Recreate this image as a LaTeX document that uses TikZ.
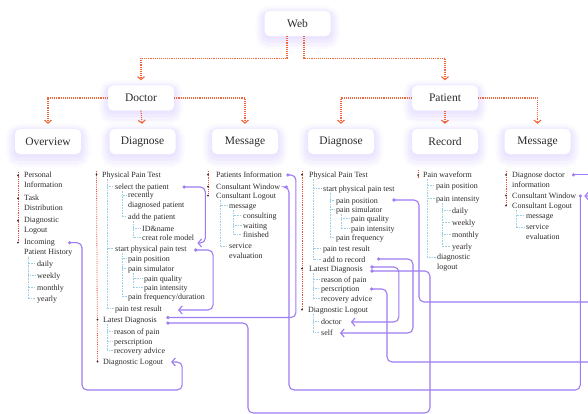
\documentclass[tikz,border=0pt]{standalone}
\usepackage{fontspec}
\setmainfont{Liberation Serif}
\usepackage{tikz}
\usetikzlibrary{arrows.meta}
\definecolor{ink}{HTML}{2B2B2B}
\definecolor{flow}{HTML}{F2643A}
\definecolor{spinec}{HTML}{E5533D}
\definecolor{branch}{HTML}{9FCFE6}
\definecolor{link}{HTML}{9E7CF2}
\definecolor{glow}{HTML}{B9A3FF}
\tikzset{
  box/.style={rounded corners=5pt, fill=white, minimum width=66pt, minimum height=25pt,
    font=\fontsize{11.5}{13}\selectfont, text=ink,
    preaction={draw=glow, line width=18pt, draw opacity=0.05, transform canvas={yshift=-4pt}},
    preaction={draw=glow, line width=13pt, draw opacity=0.07, transform canvas={yshift=-4pt}},
    preaction={draw=glow, line width=8pt, draw opacity=0.09, transform canvas={yshift=-3pt}},
    preaction={draw=glow, line width=3pt, draw opacity=0.08, transform canvas={yshift=-2pt}}},
  flowline/.style={draw=flow, line width=1.1pt, densely dotted, shorten >=5pt,
    -{Straight Barb[length=3pt,width=7pt]}},
  spine/.style={draw=spinec, line width=0.8pt, densely dotted},
  branchline/.style={draw=branch, line width=0.6pt, densely dotted},
  linkline/.style={draw=link, line width=1.1pt, rounded corners=5pt},
  linkarrow/.style={linkline, -{Straight Barb[length=3.5pt,width=8pt]}},
  item/.style={anchor=west, inner sep=0pt, font=\fontsize{8}{10}\selectfont, text=ink,
    text height=5.6pt, text depth=1.6pt},
  item2/.style={anchor=west, inner sep=0pt, font=\fontsize{8}{10}\selectfont, text=ink, align=left},
}

\begin{document}
\begin{tikzpicture}[x=1pt,y=-1pt]
\useasboundingbox (0,0) rectangle (588,414);
\fill[white] (0,0) rectangle (588,414);
\clip (0,0) rectangle (588,414);

% menu boxes
\node[box] (web) at (297.5,23.5) {Web};
\node[box] (doctor) at (141,98) {Doctor};
\node[box] (patient) at (445,98) {Patient};
\node[box] (overview) at (48,141.5) {Overview};
\node[box] (ddiag) at (142.5,141.5) {Diagnose};
\node[box] (dmsg) at (245,141.5) {Message};
\node[box] (pdiag) at (341,141.5) {Diagnose};
\node[box] (record) at (445,141.5) {Record};
\node[box] (pmsg) at (537.5,141.5) {Message};

\draw[flowline] ([xshift=-10.5pt]web.south) -- ++(0,22) -| (doctor.north);
\draw[flowline] ([xshift=6.5pt]web.south) -- ++(0,22) -| (patient.north);
\draw[flowline] (doctor.west) -| (overview.north);
\draw[flowline] (doctor.south) -- (ddiag.north);
\draw[flowline] (doctor.east) -| (dmsg.north);
\draw[flowline] (patient.west) -| (pdiag.north);
\draw[flowline] (patient.south) -- (record.north);
\draw[flowline] (patient.east) -| (pmsg.north);

% overview
\node[item2] (oPers) at (24,180) {Personal\\Information};
\node[item2] (oTask) at (24,203) {Task\\Distribution};
\node[item2] (oLog) at (24,226) {Diagnostic\\Logout};
\node[item2] (oInc) at (24,248) {Incoming\\Patient History};
\node[item] (oDay) at (37,264) {daily};
\node[item] (oWeek) at (37,276) {weekly};
\node[item] (oMon) at (37,288) {monthly};
\node[item] (oYear) at (37,299) {yearly};

% doctor diagnose
\node[item] (dPhys) at (102,175) {Physical Pain Test};
\node[item] (dSel) at (115,187) {select the patient};
\node[item2] (dRecent) at (128,200.5) {recently\\diagnosed patient};
\node[item] (dAdd) at (128,217) {add the patient};
\node[item] (dId) at (142,229) {ID\&name};
\node[item] (dRole) at (142,238) {creat role model};
\node[item] (dStart) at (115,249) {start physical pain test};
\node[item] (dPos) at (128,259) {pain position};
\node[item] (dSim) at (128,269) {pain simulator};
\node[item] (dQual) at (144,279) {pain quality};
\node[item] (dInt) at (144,288) {pain intensity};
\node[item] (dFreq) at (128,297) {pain frequency/duration};
\node[item] (dRes) at (115,309) {pain test result};
\node[item] (dLat) at (103,320) {Latest Diagnosis};
\node[item] (dReas) at (114,332) {reason of pain};
\node[item] (dPres) at (114,342) {perscription};
\node[item] (dRecov) at (114,351) {recovery advice};
\node[item] (dLog) at (103,362) {Diagnostic Logout};

% doctor message
\node[item] (mPat) at (216,175) {Patients Information};
\node[item] (mWin) at (216,187) {Consultant Window};
\node[item] (mLog) at (216,196) {Consultant Logout};
\node[item] (mMsg) at (229,206) {message};
\node[item] (mCons) at (243,216) {consulting};
\node[item] (mWait) at (243,226) {waiting};
\node[item] (mFin) at (243,235) {finished};
\node[item2] (mServ) at (229,251) {service\\evaluation};

% patient diagnose
\node[item] (pPhys) at (309,175) {Physical Pain Test};
\node[item] (pStart) at (323,189) {start physical pain test};
\node[item] (pPos) at (336,201) {pain position};
\node[item] (pSim) at (336,210) {pain simulator};
\node[item] (pQual) at (351,219) {pain quality};
\node[item] (pInt) at (351,229) {pain intensity};
\node[item] (pFreq) at (336,238) {pain frequency};
\node[item] (pRes) at (323,249) {pain test result};
\node[item] (pAdd) at (323,260) {add to record};
\node[item] (pLat) at (309,269) {Latest Diagnosis};
\node[item] (pReas) at (321,280) {reason of pain};
\node[item] (pPres) at (321,289) {perscription};
\node[item] (pRecov) at (321,299) {recovery advice};
\node[item] (pLog) at (308,310) {Diagnostic Logout};
\node[item] (pDoc) at (321,322) {doctor};
\node[item] (pSelf) at (321,333) {self};

% record
\node[item] (rWave) at (423,175) {Pain waveform};
\node[item] (rPos) at (436,186) {pain position};
\node[item] (rInt) at (436,199) {pain intensity};
\node[item] (rDay) at (452,211) {daily};
\node[item] (rWeek) at (452,223) {weekly};
\node[item] (rMon) at (452,235) {monthly};
\node[item] (rYear) at (452,247) {yearly};
\node[item2] (rLog) at (437,262.5) {diagnostic\\logout};

% patient message
\node[item2] (qDiag) at (512,179.5) {Diagnose doctor\\information};
\node[item] (qWin) at (512,196) {Consultant Window};
\node[item] (qLog) at (512,206) {Consultant Logout};
\node[item] (qMsg) at (526,216) {message};
\node[item2] (qServ) at (526,232) {service\\evaluation};

% red spines with bullets
\draw[spine] ([xshift=-6pt]oPers.north west) -- ([xshift=-6pt,yshift=-3.4pt]oInc.north west);
\foreach \n in {oPers,oTask,oLog,oInc}
  \fill[ink] ([xshift=-6pt,yshift=-3.4pt]\n.north west) circle (1pt);
\draw[spine] ([xshift=-5.5pt]dPhys.north west) -- ([xshift=-5.5pt,yshift=-3.4pt]dLog.north west);
\foreach \n in {dPhys,dLat,dLog}
  \fill[ink] ([xshift=-5.5pt,yshift=-3.4pt]\n.north west) circle (1pt);
\draw[spine] ([xshift=-8pt]mPat.north west) -- ([xshift=-8pt,yshift=-3.4pt]mLog.north west);
\foreach \n in {mPat,mWin,mLog}
  \fill[ink] ([xshift=-8pt,yshift=-3.4pt]\n.north west) circle (1pt);
\draw[spine] ([xshift=-7pt]pPhys.north west) -- ([xshift=-6pt,yshift=-3.4pt]pLog.north west);
\foreach \n/\o in {pPhys/7,pLat/7,pLog/6}
  \fill[ink] ([xshift=-\o pt,yshift=-3.4pt]\n.north west) circle (1pt);
\draw[spine] ([xshift=-5pt,yshift=1pt]rWave.north west) -- ([xshift=-5pt]rWave.south west);
\fill[ink] ([xshift=-5pt]rWave.west) circle (1pt);
\draw[spine] ([xshift=-6pt]qDiag.north west) -- ([xshift=-6pt,yshift=-3.4pt]qLog.north west);
\foreach \n in {qDiag,qWin,qLog}
  \fill[ink] ([xshift=-6pt,yshift=-3.4pt]\n.north west) circle (1pt);

% blue branches
\foreach \p/\o/\cs in {oInc/4/{oDay,oWeek,oMon,oYear},
    dPhys/5/{dSel,dStart,dRes}, dSel/7/{dRecent,dAdd}, dAdd/5/{dId,dRole},
    dStart/7/{dPos,dSim,dFreq}, dSim/5/{dQual,dInt}, dLat/4/{dReas,dPres,dRecov},
    mLog/4/{mMsg,mServ}, mMsg/4/{mCons,mWait,mFin},
    pPhys/4/{pStart,pRes,pAdd}, pStart/7/{pPos,pSim,pFreq}, pSim/5/{pQual,pInt},
    pLat/4/{pReas,pPres,pRecov}, pLog/5/{pDoc,pSelf},
    rWave/4/{rPos,rInt,rLog}, rInt/6/{rDay,rWeek,rMon,rYear}, qLog/4/{qMsg,qServ}}
  \foreach \c in \cs
    \draw[branchline] ([xshift=\o pt]\p.south west) |- ([xshift=-1.5pt,yshift=-3.4pt]\c.north west);

% purple links
\coordinate (kInc) at ([xshift=-3pt,yshift=-3.4pt]oInc.north east);
\coordinate (kSel) at ([xshift=15pt]dSel.east);
\coordinate (kRole) at ([xshift=3pt,yshift=-5pt]dRole.east);
\coordinate (kStart) at ([xshift=9pt,yshift=-1pt]dStart.east);
\coordinate (kRes) at ([xshift=16pt,yshift=-1pt]dRes.east);
\coordinate (kLatA) at ([xshift=11pt,yshift=2.5pt]dLat.east);
\coordinate (kLatB) at ([xshift=11pt,yshift=-3pt]dLat.east);
\coordinate (kLogD) at ([xshift=8pt]dLog.east);
\coordinate (kPatInfo) at ([xshift=6pt]mPat.east);
\coordinate (kWinD) at ([xshift=6pt]mWin.east);
\coordinate (kPPos) at ([xshift=16pt,yshift=1pt]pPos.east);
\coordinate (kAdd) at ([xshift=13pt,yshift=1pt]pAdd.east);
\coordinate (kPLatA) at ([xshift=9pt,yshift=2pt]pLat.east);
\coordinate (kPLatB) at ([xshift=9pt,yshift=-2pt]pLat.east);
\coordinate (kPPres) at ([xshift=12pt]pPres.east);
\coordinate (kDoc) at ([xshift=9pt]pDoc.east);
\coordinate (kSelf) at ([xshift=7pt]pSelf.east);
\coordinate (kQDiag) at ([xshift=8.5pt,yshift=-3.4pt]qDiag.north east);
\coordinate (kWinP) at ([xshift=4pt]qWin.east);
\coordinate (kQWin) at ([xshift=8pt]qWin.east);

\draw[linkarrow] (kInc) -| (82,390) -| ([xshift=11pt]kLogD) -- (kLogD);
\draw[linkarrow] (kSel) -| ([xshift=8pt]kRole) -- (kRole);
\draw[linkarrow] (kStart) -| ([xshift=35pt]kRes) -- (kRes);
\draw[linkline] (kLatA) -| ([xshift=8pt]kPatInfo) -- (kPatInfo);
\draw[linkline] (kLatB) -| (248,413) -| ([xshift=58pt]kPLatB) -- (kPLatB);
\draw[linkline] (kWinD) -| (289,390) -| (kWinP);
\draw[linkarrow] (kPLatA) -| ([xshift=48pt]kDoc) -- (kDoc);
\draw[linkarrow] (kAdd) -| ([xshift=73pt]kSelf) -- (kSelf);
\draw[linkarrow] (kPPos) -| (419,302) -| ([xshift=17pt]kQWin) -- (kQWin);
\draw[linkline] (kPPres) -| (387,362) -- ++(220,0);
\draw[linkline] (kQDiag) -- ++(30,0);
\foreach \k in {kInc,kSel,kStart,kLatA,kLatB,kPatInfo,kWinD,kWinP,kPLatA,kPLatB,kAdd,kPPos,kPPres,kQDiag}
  \fill[link] (\k) circle (1.8pt);
\end{tikzpicture}
\end{document}
